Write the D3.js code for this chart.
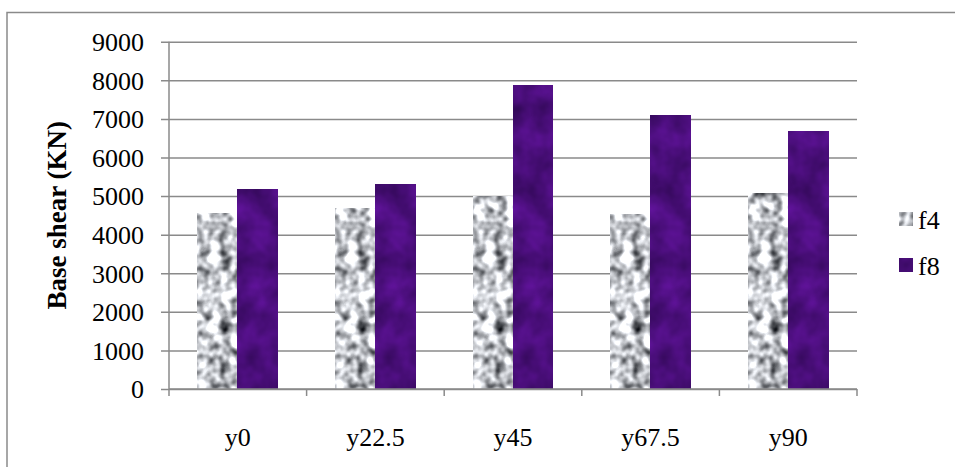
<!DOCTYPE html>
<html>
<head>
<meta charset="utf-8">
<script src="https://cdn.jsdelivr.net/npm/d3@7/dist/d3.min.js"></script>
<style>
  html, body { margin: 0; padding: 0; background: #fff; }
  svg { display: block; }
  text { font-family: "Liberation Serif", "Times New Roman", serif; fill: #000; }
</style>
</head>
<body>
<svg id="chart" width="955" height="467"></svg>
<script>
// Base shear per direction case
const categories = ["y0", "y22.5", "y45", "y67.5", "y90"];
const seriesNames = ["f4", "f8"];
const f4Values = [4550, 4680, 4980, 4520, 5060];
const f8Values = [5170, 5300, 7870, 7090, 6680];
const yTicks = [0, 1000, 2000, 3000, 4000, 5000, 6000, 7000, 8000, 9000];
const yTitle = "Base shear (KN)";

const svg = d3.select("#chart");
const W = 955, H = 467;
const plot = { left: 169, right: 857, top: 41.7, bottom: 389 };
const FS = "26px";

// Textured fills: grey granite for f4, mottled purple for f8
const defs = svg.append("defs");
function textureFilter(id, freq, octaves, seed, matrix) {
  const f = defs.append("filter").attr("id", id)
    .attr("x", 0).attr("y", 0).attr("width", 1).attr("height", 1)
    .attr("color-interpolation-filters", "sRGB");
  f.append("feTurbulence").attr("type", "fractalNoise")
    .attr("baseFrequency", freq).attr("numOctaves", octaves).attr("seed", seed);
  f.append("feColorMatrix").attr("type", "matrix").attr("values", matrix);
}
textureFilter("tex-f4", 0.09, 2, 4,
  "1.8 0 0 0 -0.13  1.8 0 0 0 -0.12  1.8 0 0 0 -0.1  0 0 0 0 1");
textureFilter("tex-f8", 0.04, 3, 9,
  "0.22 0 0 0 0.18  0.05 0 0 0 0.03  0.32 0 0 0 0.32  0 0 0 0 1");
const fillOf = { f4: "url(#tex-f4)", f8: "url(#tex-f8)" };
const baseColor = { f4: "#bdbdbd", f8: "#4a0e7a" };

// Outer frame
svg.append("rect")
  .attr("x", 7).attr("y", 12.5).attr("width", W).attr("height", H)
  .attr("fill", "none").attr("stroke", "#8a8a8a").attr("stroke-width", 1.5);

const x = d3.scaleBand().domain(categories).range([plot.left, plot.right]).padding(0);
const groupW = x.bandwidth() * 0.58;
const xs = d3.scaleBand().domain(seriesNames).range([0, groupW]).padding(0);
const y = d3.scaleLinear().domain([0, 9000]).range([plot.bottom, plot.top]);

// Horizontal gridlines with outward tick marks
const yAxis = d3.axisLeft(y).tickValues(yTicks).tickSize(-(plot.right - plot.left)).tickFormat(d3.format("d"));
const gy = svg.append("g").attr("transform", `translate(${plot.left},0)`).call(yAxis);
gy.select(".domain").remove();
gy.selectAll(".tick line")
  .attr("x1", -8)
  .attr("stroke", "#8a8a8a").attr("stroke-width", 1.5);
gy.selectAll(".tick text")
  .attr("x", -25).attr("dy", "0.34em")
  .style("font-family", "'Liberation Serif', serif").style("font-size", FS).attr("fill", "#000");

// Bars
const rows = categories.map((c, i) => ({ cat: c, f4: f4Values[i], f8: f8Values[i] }));
const groups = svg.append("g").selectAll("g").data(rows).join("g")
  .attr("transform", d => `translate(${x(d.cat) + (x.bandwidth() - groupW) / 2},0)`);
seriesNames.forEach(s => {
  groups.append("rect")
    .attr("x", xs(s)).attr("width", xs.bandwidth())
    .attr("y", d => y(d[s])).attr("height", d => y(0) - y(d[s]))
    .attr("fill", baseColor[s]);
  groups.append("rect")
    .attr("x", xs(s)).attr("width", xs.bandwidth())
    .attr("y", d => y(d[s])).attr("height", d => y(0) - y(d[s]))
    .attr("fill", baseColor[s]).attr("filter", fillOf[s]);
});

// Vertical axis line
svg.append("line")
  .attr("x1", plot.left).attr("x2", plot.left)
  .attr("y1", y(9000)).attr("y2", y(0))
  .attr("stroke", "#8a8a8a").attr("stroke-width", 1.5);

// Category axis with tick marks at group boundaries
const gx = svg.append("g").attr("transform", `translate(0,${plot.bottom})`);
gx.append("line").attr("x1", plot.left).attr("x2", plot.right)
  .attr("stroke", "#8a8a8a").attr("stroke-width", 1.5);
const bounds = categories.map(c => x(c)).concat([plot.right]);
gx.selectAll("line.tk").data(bounds).join("line").attr("class", "tk")
  .attr("x1", d => d).attr("x2", d => d).attr("y1", 0).attr("y2", 7)
  .attr("stroke", "#8a8a8a").attr("stroke-width", 1.5);
gx.selectAll("text").data(categories).join("text")
  .attr("x", d => x(d) + x.bandwidth() / 2).attr("y", 57)
  .attr("text-anchor", "middle").style("font-size", FS).text(d => d);

// Axis title
svg.append("text")
  .attr("transform", `translate(66,${(plot.top + plot.bottom) / 2}) rotate(-90)`)
  .attr("text-anchor", "middle").style("font-size", "27px").style("font-weight", "bold")
  .text(yTitle);

// Legend
const legend = svg.append("g");
seriesNames.forEach((s, i) => {
  const ly = 212 + i * 46;
  legend.append("rect").attr("x", 899).attr("y", ly).attr("width", 14).attr("height", 14)
    .attr("fill", baseColor[s]);
  legend.append("rect").attr("x", 899).attr("y", ly).attr("width", 14).attr("height", 14)
    .attr("fill", baseColor[s]).attr("filter", fillOf[s]);
  legend.append("text").attr("x", 918).attr("y", ly + 17)
    .style("font-size", FS).text(s);
});
</script>
</body>
</html>
